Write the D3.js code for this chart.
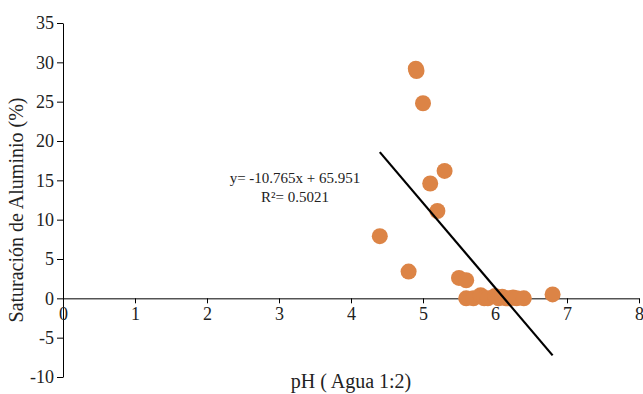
<!DOCTYPE html>
<html lang="es">
<head>
<meta charset="UTF-8">
<title>Saturación de Aluminio vs pH</title>
<script src="https://d3js.org/d3.v7.min.js"></script>
<style>
  body { margin: 0; background: #fff; }
  svg text { font-family: "Liberation Serif", "Times New Roman", serif; fill: #222; }
  .axis path, .axis line { stroke: #000; stroke-width: 1px; }
</style>
</head>
<body>
<div id="chart"></div>
<script>
// data
const phValues  = [4.9, 4.91, 5.0, 5.3, 5.1, 5.2, 4.4, 4.8, 5.5, 5.6,
                   5.6, 5.7, 5.8, 5.85, 5.9, 6.0, 6.05, 6.1, 6.15, 6.2, 6.25, 6.3, 6.4, 6.8];
const satValues = [29.2, 28.9, 24.8, 16.2, 14.6, 11.1, 7.9, 3.4, 2.6, 2.3,
                   0.0, 0.0, 0.4, 0.0, 0.0, 0.3, 0.0, 0.2, 0.0, 0.0, 0.1, 0.0, 0.0, 0.5];
const xTicks = [0, 1, 2, 3, 4, 5, 6, 7, 8];
const yTicks = [-10, -5, 0, 5, 10, 15, 20, 25, 30, 35];
const slope = -10.765, intercept = 65.951, r2 = 0.5021;
const fitRange = [4.4, 6.8];

const width = 643, height = 394;
const svg = d3.select("#chart").append("svg")
    .attr("width", width).attr("height", height);

const x = d3.scaleLinear().domain([0, 8]).range([63, 639]);
const y = d3.scaleLinear().domain([-10, 35]).range([377, 23]);

// plain hyphen for negatives, like the original
const fmt = d => String(d);

// y axis
svg.append("g")
    .attr("class", "axis")
    .attr("transform", `translate(${x(0)},0)`)
    .call(d3.axisLeft(y).tickValues(yTicks).tickFormat(fmt).tickSize(6).tickSizeOuter(0).tickPadding(3))
    .call(g => g.selectAll("text").style("font-size", "18px"));

// x axis through y = 0
svg.append("g")
    .attr("class", "axis")
    .attr("transform", `translate(0,${y(0)})`)
    .call(d3.axisBottom(x).tickValues(xTicks).tickFormat(fmt).tickSize(5).tickSizeOuter(0).tickPadding(4))
    .call(g => g.selectAll("text").style("font-size", "18px"));

// points
const pts = phValues.map((v, i) => ({ ph: v, sat: satValues[i] }));
svg.append("g").selectAll("circle")
    .data(pts)
    .enter().append("circle")
    .attr("cx", d => x(d.ph))
    .attr("cy", d => y(d.sat))
    .attr("r", 8)
    .attr("fill", "#dc8446");

// trend line
svg.append("line")
    .attr("x1", x(fitRange[0])).attr("y1", y(slope * fitRange[0] + intercept))
    .attr("x2", x(fitRange[1])).attr("y2", y(slope * fitRange[1] + intercept))
    .attr("stroke", "#000").attr("stroke-width", 2.2);

// equation
svg.append("text")
    .attr("x", 295).attr("y", 183)
    .attr("text-anchor", "middle").style("font-size", "15px")
    .text(`y= ${slope}x + ${intercept}`);
svg.append("text")
    .attr("x", 295).attr("y", 202)
    .attr("text-anchor", "middle").style("font-size", "15px")
    .text(`R²= ${r2}`);

// axis titles
svg.append("text")
    .attr("transform", "translate(23,210) rotate(-90)")
    .attr("text-anchor", "middle").style("font-size", "20px")
    .text("Saturación de Aluminio (%)");
svg.append("text")
    .attr("x", 351).attr("y", 388)
    .attr("text-anchor", "middle").style("font-size", "20px")
    .text("pH ( Agua 1:2)");
</script>
</body>
</html>
